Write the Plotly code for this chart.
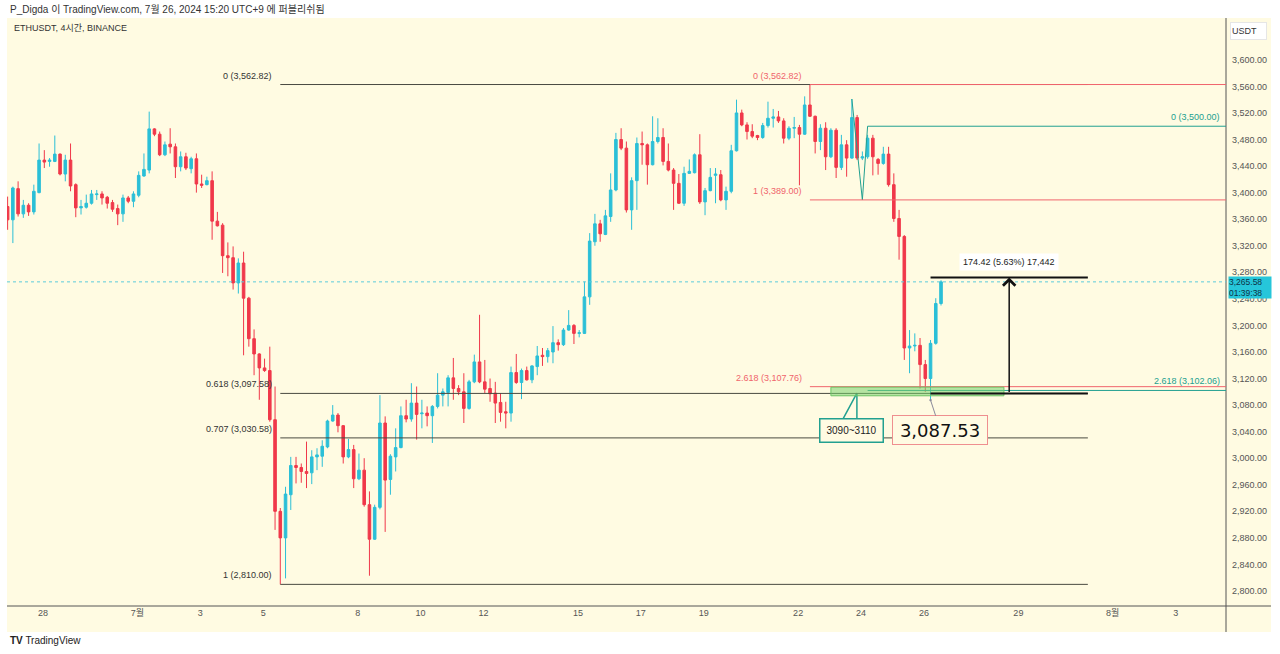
import pandas as pd
import plotly.graph_objects as go

# ETHUSDT 4h candles (KST)
times = pd.date_range("2024-06-26 21:00", periods=179, freq="4h")

opens = [3379, 3359, 3406, 3368, 3381, 3371, 3400, 3449, 3447, 3447,
         3458, 3428, 3449, 3412, 3377, 3378, 3384, 3397, 3398, 3393,
         3385, 3376, 3368, 3392, 3387, 3396, 3425, 3434, 3496, 3488,
         3457, 3473, 3469, 3439, 3454, 3436, 3451, 3413, 3412, 3418,
         3357, 3351, 3305, 3302, 3264, 3294, 3241, 3180, 3157, 3136,
         3132, 3058, 2920, 2880, 2945, 2989, 2986, 2980, 2978, 3002,
         3003, 3017, 3056, 3065, 3049, 3002, 3013, 2969, 2982, 2930,
         2878, 2926, 3053, 2968, 3002, 3016, 3064, 3059, 3083, 3067,
         3068, 3064, 3078, 3095, 3099, 3121, 3105, 3100, 3075, 3115,
         3145, 3115, 3105, 3098, 3084, 3070, 3068, 3129, 3114, 3132,
         3118, 3138, 3155, 3153, 3160, 3174, 3171, 3193, 3200, 3188,
         3188, 3243, 3326, 3353, 3337, 3364, 3404, 3480, 3467, 3374,
         3418, 3474, 3472, 3442, 3477, 3483, 3447, 3434, 3414, 3384,
         3429, 3430, 3457, 3386, 3403, 3426, 3427, 3389, 3402, 3463,
         3520, 3502, 3492, 3486, 3483, 3501, 3512, 3514, 3508, 3482,
         3497, 3498, 3488, 3532, 3515, 3477, 3497, 3454, 3494, 3438,
         3472, 3452, 3513, 3452, 3454, 3482, 3450, 3444, 3458, 3412,
         3361, 3334, 3166, 3169, 3170, 3141, 3120, 3173, 3233]
highs = [3394, 3409, 3417, 3389, 3384, 3412, 3474, 3464, 3452, 3486,
         3459, 3457, 3474, 3414, 3389, 3397, 3404, 3404, 3402, 3395,
         3389, 3382, 3397, 3395, 3402, 3432, 3459, 3522, 3497, 3492,
         3477, 3497, 3474, 3462, 3460, 3454, 3459, 3427, 3424, 3432,
         3371, 3354, 3325, 3319, 3301, 3311, 3243, 3194, 3158, 3150,
         3168, 3108, 2925, 2957, 3002, 3002, 2992, 3025, 3012, 3015,
         3027, 3058, 3080, 3068, 3050, 3029, 3020, 3007, 3000, 2950,
         2930, 3095, 3063, 3006, 3045, 3078, 3088, 3113, 3108, 3088,
         3078, 3080, 3128, 3105, 3125, 3151, 3110, 3128, 3118, 3156,
         3216, 3148, 3120, 3115, 3098, 3085, 3138, 3157, 3135, 3138,
         3140, 3169, 3166, 3166, 3199, 3179, 3196, 3223, 3202, 3193,
         3266, 3339, 3368, 3359, 3374, 3429, 3490, 3497, 3477, 3423,
         3483, 3492, 3474, 3515, 3512, 3497, 3474, 3437, 3428, 3439,
         3450, 3459, 3488, 3407, 3437, 3437, 3434, 3409, 3472, 3540,
         3525, 3506, 3503, 3487, 3505, 3537, 3526, 3523, 3512, 3500,
         3514, 3502, 3545, 3562.82, 3516, 3503, 3506, 3497, 3497, 3487,
         3479, 3541, 3517, 3462, 3487, 3487, 3452, 3469, 3469, 3429,
         3374, 3336, 3193, 3188, 3181, 3148, 3178, 3241, 3268]
lows = [3344, 3324, 3364, 3362, 3365, 3367, 3399, 3437, 3439, 3446,
        3426, 3417, 3402, 3363, 3367, 3376, 3382, 3389, 3382, 3376,
        3371, 3351, 3356, 3384, 3378, 3393, 3424, 3429, 3485, 3455,
        3455, 3459, 3422, 3432, 3434, 3429, 3400, 3407, 3411, 3329,
        3349, 3279, 3274, 3254, 3248, 3155, 3168, 3125, 3088, 3130,
        3055, 2892, 2810, 2819, 2922, 2962, 2963, 2955, 2961, 2982,
        2987, 3015, 3055, 3039, 2992, 3000, 2955, 2967, 2927, 2823,
        2877, 2923, 2889, 2945, 2980, 3015, 3054, 3055, 3028, 3045,
        3048, 3023, 3075, 3078, 3078, 3088, 3095, 3053, 3073, 3113,
        3113, 3098, 3085, 3053, 3055, 3045, 3055, 3112, 3089, 3117,
        3113, 3125, 3139, 3144, 3143, 3162, 3169, 3192, 3172, 3182,
        3187, 3231, 3320, 3326, 3336, 3356, 3402, 3464, 3370, 3344,
        3374, 3442, 3412, 3441, 3474, 3441, 3432, 3374, 3383, 3380,
        3428, 3429, 3383, 3366, 3402, 3384, 3387, 3374, 3399, 3462,
        3500, 3480, 3482, 3479, 3481, 3498, 3498, 3505, 3474, 3479,
        3482, 3411, 3487, 3514, 3459, 3464, 3434, 3452, 3422, 3434,
        3424, 3451, 3449, 3449, 3451, 3426, 3427, 3442, 3409, 3356,
        3299, 3148, 3128, 3161, 3105, 3100, 3087.53, 3171, 3230]
closes = [3359, 3407, 3368, 3381, 3371, 3402, 3449, 3446, 3449, 3458,
          3428, 3449, 3410, 3377, 3379, 3384, 3398, 3398, 3392, 3384,
          3375, 3368, 3392, 3387, 3398, 3426, 3435, 3496, 3488, 3457,
          3472, 3469, 3439, 3454, 3437, 3451, 3413, 3411, 3418, 3357,
          3350, 3305, 3302, 3264, 3294, 3241, 3180, 3157, 3136, 3132,
          3058, 2920, 2880, 2946, 2989, 2986, 2980, 2977, 3002, 3005,
          3018, 3056, 3065, 3049, 3002, 3013, 2969, 2982, 2930, 2878,
          2926, 3053, 2967, 3003, 3016, 3064, 3059, 3083, 3066, 3068,
          3064, 3078, 3095, 3100, 3121, 3105, 3100, 3075, 3115, 3145,
          3115, 3104, 3097, 3083, 3069, 3068, 3129, 3114, 3132, 3118,
          3139, 3154, 3153, 3162, 3174, 3171, 3193, 3200, 3188, 3189,
          3243, 3327, 3353, 3338, 3365, 3404, 3480, 3467, 3374, 3418,
          3474, 3472, 3442, 3477, 3483, 3447, 3434, 3414, 3384, 3429,
          3432, 3457, 3386, 3403, 3423, 3428, 3389, 3402, 3463, 3520,
          3502, 3492, 3485, 3483, 3501, 3512, 3514, 3508, 3482, 3497,
          3498, 3488, 3532, 3515, 3477, 3497, 3454, 3494, 3438, 3472,
          3452, 3513, 3452, 3454, 3482, 3454, 3444, 3458, 3412, 3361,
          3334, 3166, 3169, 3170, 3141, 3120, 3173, 3233, 3265.58]

tick_dates = ["2024-06-28", "2024-07-01", "2024-07-03", "2024-07-05", "2024-07-08",
              "2024-07-10", "2024-07-12", "2024-07-15", "2024-07-17", "2024-07-19",
              "2024-07-22", "2024-07-24", "2024-07-26", "2024-07-29", "2024-08-01",
              "2024-08-03"]
tick_text = ["28", "7월", "3", "5", "8", "10", "12", "15", "17", "19",
             "22", "24", "26", "29", "8월", "3"]
price_ticks = list(range(2800, 3601, 40))

# drawings
fib_black = [("0", 3562.82), ("0.618", 3097.58), ("0.707", 3030.58), ("1", 2810.00)]
fib_red = [("0", 3562.82), ("1", 3389.00), ("2.618", 3107.76)]
fib_teal = [("0", 3500.00), ("2.618", 3102.06)]
teal_anchor_y = [3541, 3389, 3500]
zone_low, zone_high = 3094, 3107
measure_low, measure_high = 3097.58, 3272.00
last_price = 3265.58
swing_low = 3087.53

X_RANGE = ["2024-06-26 20:32", "2024-08-04 14:23"]
black_start, black_end = times[52], pd.Timestamp("2024-07-31 05:00")
red_start = times[153]
teal_start = times[164]
zone_start, zone_end = pd.Timestamp("2024-07-23 01:00"), pd.Timestamp("2024-07-28 13:00")
measure_start, measure_end = times[176], pd.Timestamp("2024-07-31 05:00")
measure_mid = measure_start + (measure_end - measure_start) / 2

UP = "#2bbfd7"
DOWN = "#f0384a"
CREAM = "#fffbe2"
RED_FIB = "#f0646c"
TEAL_FIB = "#22a090"
BLACK_FIB = "#4a4a40"
FONT = "Liberation Sans, Noto Sans CJK KR, sans-serif"

fig = go.Figure()
fig.add_trace(go.Candlestick(
    x=times, open=opens, high=highs, low=lows, close=closes,
    increasing=dict(line=dict(color=UP, width=1), fillcolor=UP),
    decreasing=dict(line=dict(color=DOWN, width=1), fillcolor=DOWN),
    whiskerwidth=0, showlegend=False, hoverinfo="skip"))

# teal fib anchor zigzag
fig.add_trace(go.Scatter(
    x=[times[161], times[163], times[164]], y=teal_anchor_y, mode="lines",
    line=dict(color=TEAL_FIB, width=1), showlegend=False, hoverinfo="skip"))

# callout pointer for the zone note
fig.add_trace(go.Scatter(
    x=[pd.Timestamp("2024-07-23 10:10"), pd.Timestamp("2024-07-23 20:50"),
       pd.Timestamp("2024-07-23 20:50")],
    y=[3059, 3098, 3059], mode="lines", fill="toself", fillcolor=CREAM,
    line=dict(color=TEAL_FIB, width=1.5), showlegend=False, hoverinfo="skip"))

shapes = []
# cream frame behind everything, axis separators
shapes.append(dict(type="rect", xref="paper", yref="paper", x0=0, x1=1.0369,
                   y0=-0.0442, y1=1, fillcolor=CREAM, line_width=0, layer="below"))
shapes.append(dict(type="line", xref="paper", yref="paper", x0=0, x1=1.0369,
                   y0=0, y1=0, line=dict(color="#555", width=1)))
shapes.append(dict(type="line", xref="paper", yref="paper", x0=1, x1=1,
                   y0=-0.0442, y1=1, line=dict(color="#555", width=1)))

for name, lvl in fib_black:
    shapes.append(dict(type="line", xref="x", yref="y", x0=black_start, x1=black_end,
                       y0=lvl, y1=lvl, line=dict(color=BLACK_FIB, width=1)))
for name, lvl in fib_red:
    shapes.append(dict(type="line", xref="x", yref="y", x0=red_start, x1=X_RANGE[1],
                       y0=lvl, y1=lvl, line=dict(color=RED_FIB, width=1)))
for name, lvl in fib_teal:
    shapes.append(dict(type="line", xref="x", yref="y", x0=teal_start, x1=X_RANGE[1],
                       y0=lvl, y1=lvl, line=dict(color=TEAL_FIB, width=1)))

shapes.append(dict(type="rect", xref="x", yref="y", x0=zone_start, x1=zone_end,
                   y0=zone_low, y1=zone_high, fillcolor="rgba(120,210,110,0.55)",
                   line=dict(color="#6cc464", width=1)))

for lvl in (measure_low, measure_high):
    shapes.append(dict(type="line", xref="x", yref="y", x0=measure_start, x1=measure_end,
                       y0=lvl, y1=lvl, line=dict(color="#111", width=2)))

shapes.append(dict(type="line", xref="paper", yref="y", x0=0, x1=1,
                   y0=last_price, y1=last_price,
                   line=dict(color="#5ccbdc", width=1, dash="dot")))

ann = []


def lab(text, x, y, color, xref="x", xshift=-6):
    ann.append(dict(text=text, x=x, y=y, xref=xref, yref="y", xanchor="right",
                    yanchor="bottom", yshift=2, xshift=xshift, showarrow=False,
                    font=dict(size=9, color=color, family=FONT)))


for name, lvl in fib_black:
    lab(f"{name} ({lvl:,.2f})", black_start, lvl, "#333")
for name, lvl in fib_red:
    lab(f"{name} ({lvl:,.2f})", red_start, lvl, RED_FIB)
for name, lvl in fib_teal:
    lab(f"{name} ({lvl:,.2f})", 1, lvl, TEAL_FIB, xref="paper", xshift=-4)

# measure arrow and label
ann.append(dict(x=measure_mid, y=measure_high, ax=measure_mid, ay=measure_low,
                xref="x", yref="y", axref="x", ayref="y", text="", showarrow=True,
                arrowhead=4, arrowsize=1.6, arrowwidth=1.5, arrowcolor="#111", standoff=0))
diff = measure_high - measure_low
ann.append(dict(x=measure_mid, y=measure_high, xref="x", yref="y", yanchor="bottom",
                yshift=7, showarrow=False,
                text=f"{diff:,.2f} ({diff / measure_low * 100:.2f}%) {diff * 100:,.0f}",
                bgcolor="white", borderpad=3,
                font=dict(size=9, color="#222", family=FONT)))

# notes
ann.append(dict(x=pd.Timestamp("2024-07-23 16:40"), y=3042, xref="x", yref="y",
                text="3090~3110", showarrow=False, bgcolor=CREAM,
                bordercolor=TEAL_FIB, borderwidth=1.5, borderpad=1, width=60, height=20,
                font=dict(size=10, color="#222", family=FONT)))
ann.append(dict(x=times[176], y=swing_low, ax=pd.Timestamp("2024-07-26 12:35"), ay=3042,
                xref="x", yref="y", axref="x", ayref="y",
                text=f"{swing_low:,.2f}", showarrow=True, arrowhead=6, arrowsize=0.6,
                arrowwidth=1, arrowcolor="#8a8a9a", standoff=0,
                bgcolor=CREAM, bordercolor="#ef8f8f", borderwidth=1, borderpad=1,
                width=92, height=26,
                font=dict(size=18, color="#111", family="DejaVu Sans, sans-serif")))

# price scale labels
ann.append(dict(x=1.0018, y=last_price, xref="paper", yref="y", xanchor="left",
                yanchor="top", yshift=6, showarrow=False, align="left",
                text="3,265.58<br>01:39:38", bgcolor="#26c6da", borderpad=0, width=42,
                font=dict(size=8.5, color="#0d3447", family=FONT)))
ann.append(dict(x=1.0033, y=0.978, xref="paper", yref="paper", xanchor="left",
                yanchor="middle", showarrow=False, text="USDT", align="left",
                bgcolor="white", bordercolor="#e6e6e6", borderwidth=1, width=33, height=14,
                font=dict(size=9, color="#333", family=FONT)))

# header and footer
ann.append(dict(x=0.0008, y=1.0153, xref="paper", yref="paper", xanchor="left",
                yanchor="middle", showarrow=False,
                text="P_Digda 이 TradingView.com, 7월 26, 2024 15:20 UTC+9 에 퍼블리쉬됨",
                font=dict(size=10, color="#333", family=FONT)))
ann.append(dict(x=0.0041, y=0.983, xref="paper", yref="paper", xanchor="left",
                yanchor="middle", showarrow=False, text="ETHUSDT, 4시간, BINANCE",
                font=dict(size=9, color="#333", family=FONT)))
ann.append(dict(x=0.0008, y=-0.0595, xref="paper", yref="paper", xanchor="left",
                yanchor="middle", showarrow=False,
                text="<b>TV</b> TradingView",
                font=dict(size=10, color="#222", family=FONT)))

fig.update_layout(
    width=1280, height=654,
    margin=dict(l=7, r=54, t=18, b=48),
    paper_bgcolor="white", plot_bgcolor=CREAM,
    showlegend=False, shapes=shapes, annotations=ann,
    xaxis=dict(type="date", range=X_RANGE, rangeslider=dict(visible=False),
               showgrid=False, zeroline=False, showline=False, ticks="",
               tickmode="array", tickvals=tick_dates, ticktext=tick_text,
               tickfont=dict(size=9, color="#555", family=FONT), fixedrange=True),
    yaxis=dict(side="right", range=[2777.4, 3663], showgrid=False, zeroline=False,
               showline=False, ticks="", tickmode="array", tickvals=price_ticks,
               ticktext=[f"{v:,.2f}" for v in price_ticks], ticklabelstandoff=5,
               tickfont=dict(size=9, color="#555", family=FONT), fixedrange=True),
)

fig.write_html("out.html", config={"displayModeBar": False},
               post_script="document.body.style.margin='0';")
